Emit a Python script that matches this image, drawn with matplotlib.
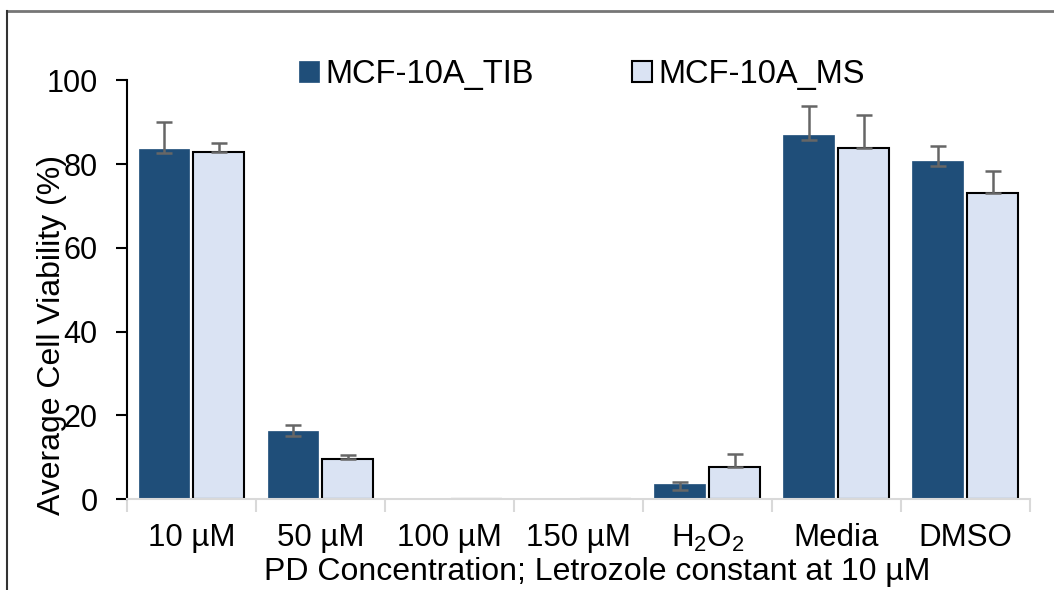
import numpy as np
import matplotlib.pyplot as plt
from matplotlib.lines import Line2D

plt.rcParams['font.family'] = ['Liberation Sans', 'DejaVu Sans']
plt.rcParams['mathtext.default'] = 'regular'

# data
categories = ['10 µM', '50 µM', '100 µM', '150 µM', 'H$_2$O$_2$', 'Media', 'DMSO']
tib = [83.7, 16.2, 0.0, 0.0, 3.5, 87.0, 80.7]
tib_err_up = [6.3, 1.6, 0.0, 0.0, 0.6, 6.8, 3.5]
tib_err_down = [1.1, 1.2, 0.0, 0.0, 1.3, 1.2, 1.2]
ms = [82.8, 9.5, 0.0, 0.0, 7.7, 83.9, 73.1]
ms_err_up = [2.2, 1.1, 0.0, 0.0, 3.0, 7.7, 5.3]

dark = '#1F4E79'
light = '#DAE3F3'
errc = '#666666'

fig = plt.figure(figsize=(10.54, 5.90), dpi=100)
ax = fig.add_axes([0.1205, 0.154, 0.8565, 0.710])

x = np.arange(len(categories))
w = 0.395
off = 0.213

ax.bar(x - off, tib, w, color=dark, edgecolor=dark, linewidth=0.5, label='MCF-10A_TIB', zorder=2)
ax.bar(x + off, ms, w, color=light, edgecolor='black', linewidth=1.5, label='MCF-10A_MS', zorder=2)

# error bars only where there is a visible bar
m = np.array(tib) > 0
ax.errorbar((x - off)[m], np.array(tib)[m],
            yerr=[np.array(tib_err_down)[m], np.array(tib_err_up)[m]],
            fmt='none', ecolor=errc, elinewidth=1.8, capsize=5.5, capthick=1.8, zorder=3)
m2 = np.array(ms) > 0
ax.errorbar((x + off)[m2], np.array(ms)[m2],
            yerr=[np.zeros(m2.sum()), np.array(ms_err_up)[m2]],
            fmt='none', ecolor=errc, elinewidth=1.8, capsize=5.5, capthick=1.8, zorder=3)

ax.set_xlim(-0.5, len(categories) - 0.5)
ax.set_ylim(0, 100)
ax.set_yticks([0, 20, 40, 60, 80, 100])
ax.tick_params(axis='y', labelsize=22, length=8, width=1.5, color='black', pad=13)

ax.set_xticks(x)
ax.set_xticklabels(categories, fontsize=22.5)
ax.tick_params(axis='x', length=0, pad=17)
ax.set_xticks(np.arange(-0.5, len(categories)), minor=True)
ax.tick_params(axis='x', which='minor', length=9, width=1.5, color='#D9D9D9')

for s in ['top', 'right']:
    ax.spines[s].set_visible(False)
ax.spines['left'].set_linewidth(1.5)
ax.spines['left'].set_color('black')
ax.spines['bottom'].set_color('#D9D9D9')
ax.spines['bottom'].set_linewidth(1.5)

fig.text(0.049, 0.432, 'Average Cell Viability (%)', rotation=90, fontsize=23,
         ha='center', va='center')
fig.text(0.567, 0.031, 'PD Concentration; Letrozole constant at 10 µM', fontsize=23,
         ha='center', va='center')

ax.legend(loc='center', bbox_to_anchor=(0.504, 1.013), ncol=2, frameon=False,
          fontsize=23.5, handlelength=0.6, handleheight=0.6, handletextpad=0.2,
          columnspacing=3.0)

# outer frame (top and left edges)
fig.add_artist(Line2D([0.0066, 1.0], [0.981, 0.981], transform=fig.transFigure,
                      color='#767676', linewidth=2))
fig.add_artist(Line2D([0.0066, 0.0066], [0.0, 0.981], transform=fig.transFigure,
                      color='#333333', linewidth=1.5))

plt.savefig('out.png', dpi=100)
